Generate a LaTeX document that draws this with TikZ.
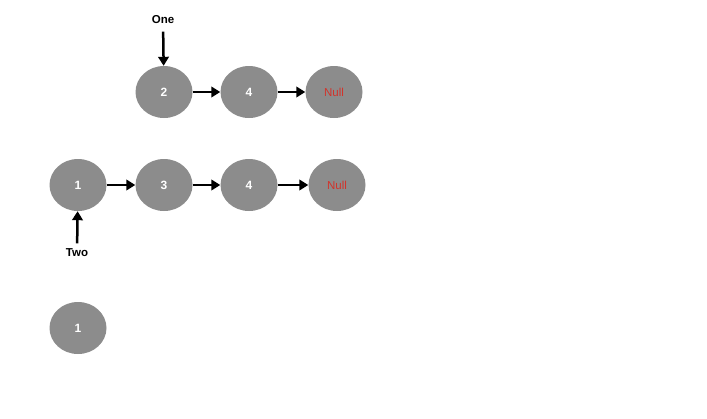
\documentclass[tikz,border=0pt]{standalone}
\usepackage{fontspec}
\setmainfont{Liberation Sans}
\usetikzlibrary{shapes.geometric,arrows.meta}
\definecolor{nodegray}{HTML}{8C8C8C}
\definecolor{nullred}{HTML}{D2332B}
\begin{document}
\begin{tikzpicture}[x=1pt,y=-1pt,
  lnode/.style={ellipse,fill=nodegray,draw=none,minimum width=57pt,minimum height=52pt,inner sep=0pt,text=white,font=\bfseries\fontsize{12}{14}\selectfont},
  nulltext/.style={text=nullred,font=\fontsize{11.5}{14}\selectfont},
  link/.style={line width=2.5pt,-{Triangle[length=9pt,width=10.5pt]}},
  lbl/.style={font=\bfseries\fontsize{11.5}{14}\selectfont}]
\useasboundingbox (0,0) rectangle (707,418);
% row one
\node[lnode] (a1) at (164,92) {2};
\node[lnode] (a2) at (249,92) {4};
\node[lnode,nulltext] (a3) at (334,92) {Null};
\draw[link] (a1) -- (a2);
\draw[link] (a2) -- (a3);
\node[lbl] (one) at (163,20) {One};
\draw[link,shorten <=4pt] (one) -- (a1);
% row two
\node[lnode] (b1) at (78,185) {1};
\node[lnode] (b2) at (164,185) {3};
\node[lnode] (b3) at (249,185) {4};
\node[lnode,nulltext] (b4) at (337,185) {Null};
\draw[link] (b1) -- (b2);
\draw[link] (b2) -- (b3);
\draw[link] (b3) -- (b4);
\node[lbl] (two) at (77,253) {Two};
\draw[link,shorten <=2pt] (two) -- (b1);
% lone node
\node[lnode] (c1) at (78,328) {1};
\end{tikzpicture}
\end{document}
